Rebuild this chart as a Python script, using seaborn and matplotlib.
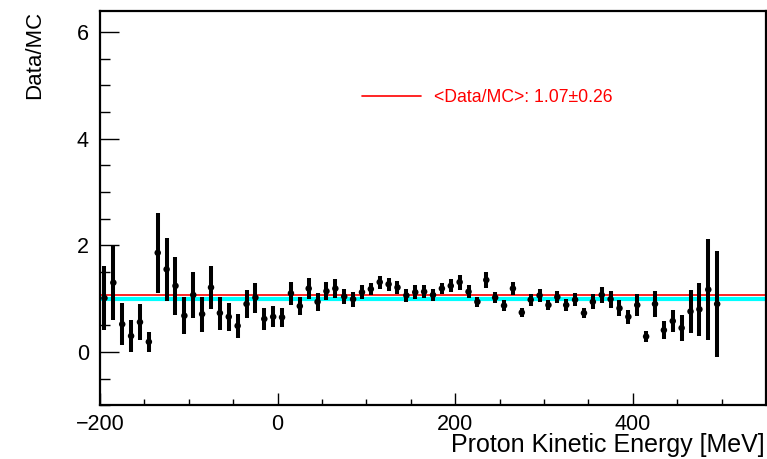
import numpy as np
import pandas as pd
import matplotlib
matplotlib.use("Agg")
import matplotlib.pyplot as plt
from matplotlib.ticker import MultipleLocator
import seaborn as sns

# bin centres [MeV]
energy = [-195, -185, -175, -165, -155, -145, -135, -125, -115, -105,
          -95, -85, -75, -65, -55, -45, -35, -25, -15, -5,
          5, 15, 25, 35, 45, 55, 65, 75, 85, 95,
          105, 115, 125, 135, 145, 155, 165, 175, 185, 195,
          205, 215, 225, 235, 245, 255, 265, 275, 285, 295,
          305, 315, 325, 335, 345, 355, 365, 375, 385, 395,
          405, 415, 425, 435, 445, 455, 465, 475, 485, 495]

ratio = [1.01, 1.30, 0.52, 0.30, 0.56, 0.19, 1.86, 1.55, 1.24, 0.68,
         1.07, 0.71, 1.21, 0.73, 0.66, 0.49, 0.90, 1.02, 0.62, 0.66,
         0.65, 1.10, 0.86, 1.19, 0.94, 1.14, 1.19, 1.04, 0.99, 1.12,
         1.18, 1.31, 1.27, 1.21, 1.06, 1.12, 1.13, 1.07, 1.19, 1.24,
         1.31, 1.13, 0.94, 1.35, 1.02, 0.87, 1.19, 0.74, 0.98, 1.06,
         0.88, 1.03, 0.88, 0.98, 0.73, 0.94, 1.07, 0.99, 0.82, 0.66,
         0.88, 0.29, 0.90, 0.41, 0.58, 0.45, 0.76, 0.80, 1.17, 0.90]

ratio_err = [0.60, 0.70, 0.39, 0.30, 0.34, 0.19, 0.75, 0.59, 0.55, 0.35,
             0.43, 0.33, 0.41, 0.31, 0.26, 0.23, 0.27, 0.28, 0.20, 0.20,
             0.18, 0.22, 0.17, 0.20, 0.17, 0.17, 0.18, 0.14, 0.14, 0.13,
             0.12, 0.12, 0.12, 0.12, 0.12, 0.13, 0.12, 0.12, 0.11, 0.12,
             0.14, 0.12, 0.10, 0.15, 0.11, 0.10, 0.12, 0.09, 0.11, 0.12,
             0.10, 0.12, 0.11, 0.12, 0.10, 0.14, 0.15, 0.16, 0.15, 0.13,
             0.20, 0.10, 0.25, 0.17, 0.20, 0.25, 0.40, 0.50, 0.95, 1.00]

mean_ratio = 1.07
mean_ratio_err = 0.26
unity = 1.0

df = pd.DataFrame({'E': energy, 'ratio': ratio, 'err': ratio_err})

sns.set_style("white")
plt.rcParams['font.family'] = ['Liberation Sans', 'DejaVu Sans']
plt.rcParams['text.color'] = 'black'
plt.rcParams['axes.labelcolor'] = 'black'

fig = plt.figure(figsize=(7.67, 4.59), dpi=100)
ax = fig.add_axes([0.1304, 0.117, 0.8683, 0.8597])

# reference lines
ax.axhline(unity, color='#00ffff', lw=3, zorder=1)
ax.axhline(mean_ratio, color='red', lw=1.2, zorder=2,
           label=f'<Data/MC>: {mean_ratio:.2f}\u00b1{mean_ratio_err:.2f}')

ax.errorbar(df['E'], df['ratio'], yerr=df['err'], fmt='none',
            ecolor='black', elinewidth=2.9, capsize=0, zorder=3)
sns.scatterplot(data=df, x='E', y='ratio', color='black', s=22,
                edgecolor='none', zorder=4, ax=ax)

ax.set_xlim(-200, 550)
ax.set_ylim(-1, 6.4)
ax.xaxis.set_major_locator(MultipleLocator(200))
ax.xaxis.set_minor_locator(MultipleLocator(50))
ax.yaxis.set_major_locator(MultipleLocator(2))
ax.yaxis.set_minor_locator(MultipleLocator(0.5))
ax.tick_params(axis='both', which='both', direction='in', width=1,
               labelsize=15.5, colors='black', bottom=True, left=True,
               top=False, right=False)
ax.tick_params(axis='x', which='major', length=8.5, pad=6)
ax.tick_params(axis='x', which='minor', length=4.3)
ax.tick_params(axis='y', which='major', length=14, pad=8)
ax.tick_params(axis='y', which='minor', length=7)
for s in ax.spines.values():
    s.set_linewidth(1.6)
    s.set_color('black')

ax.set_xlabel('Proton Kinetic Energy [MeV]', fontsize=18, loc='right')
ax.set_ylabel('Data/MC', fontsize=16, loc='top')
ax.xaxis.set_label_coords(0.998, -0.07)
ax.yaxis.set_label_coords(-0.083, 1.0)

ax.legend(loc='center left', bbox_to_anchor=(0.394, 0.780), frameon=False,
          fontsize=12.7, handlelength=3.3, handletextpad=0.74,
          borderpad=0, borderaxespad=0, labelcolor='red')

fig.savefig('out.png', dpi=100)
